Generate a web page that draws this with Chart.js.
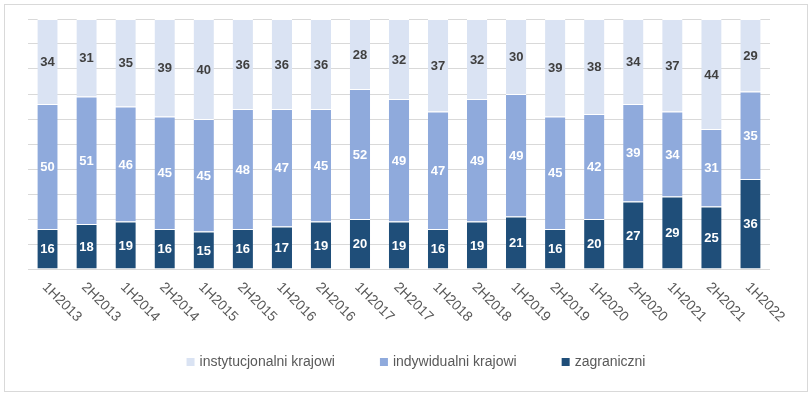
<!DOCTYPE html>
<html>
<head>
<meta charset="utf-8">
<script src="https://cdn.jsdelivr.net/npm/chart.js@4"></script>
<style>
  body { margin: 0; background: #fff; }
  #ramka { position: absolute; left: 4px; top: 4px; width: 802px; height: 386px; border: 1px solid #d9d9d9; }
  canvas { display: block; }
</style>
</head>
<body>
<div id="ramka"><canvas id="wykres" width="802" height="386"></canvas></div>
<script>
const okresy = ['1H2013', '2H2013', '1H2014', '2H2014', '1H2015', '2H2015', '1H2016', '2H2016', '1H2017', '2H2017',
  '1H2018', '2H2018', '1H2019', '2H2019', '1H2020', '2H2020', '1H2021', '2H2021', '1H2022'];
const zagraniczni = [16, 18, 19, 16, 15, 16, 17, 19, 20, 19, 16, 19, 21, 16, 20, 27, 29, 25, 36];
const indywidualni = [50, 51, 46, 45, 45, 48, 47, 45, 52, 49, 47, 49, 49, 45, 42, 39, 34, 31, 35];
const instytucjonalni = [34, 31, 35, 39, 40, 36, 36, 36, 28, 32, 37, 32, 30, 39, 38, 34, 37, 44, 29];
const yTicks = [0, 10, 20, 30, 40, 50, 60, 70, 80, 90, 100];

const kolorTekstu = '#595959';

// etykiety wartości na słupkach
const etykietyWartosci = {
  id: 'etykietyWartosci',
  afterDatasetsDraw(chart) {
    const ctx = chart.ctx;
    ctx.save();
    ctx.font = 'bold 13px "Liberation Sans", Arial, sans-serif';
    ctx.textAlign = 'center';
    ctx.textBaseline = 'middle';
    chart.data.datasets.forEach((ds, i) => {
      chart.getDatasetMeta(i).data.forEach((el, j) => {
        ctx.fillStyle = ds.kolorEtykiety;
        ctx.fillText(ds.data[j], el.x, (el.y + el.base) / 2 + 1);
      });
    });
    ctx.restore();
  }
};

// etykiety osi X obrócone w dół
const etykietyOsi = {
  id: 'etykietyOsi',
  afterDraw(chart) {
    const ctx = chart.ctx;
    const skala = chart.scales.x;
    ctx.save();
    ctx.font = '14px "Liberation Sans", Arial, sans-serif';
    ctx.fillStyle = kolorTekstu;
    ctx.textAlign = 'left';
    ctx.textBaseline = 'top';
    okresy.forEach((t, i) => {
      const x = skala.getPixelForTick(i);
      ctx.save();
      ctx.translate(x + 2, chart.chartArea.bottom + 11);
      ctx.rotate(Math.PI / 4);
      ctx.fillText(t, 0, 0);
      ctx.restore();
    });
    ctx.restore();
  }
};

// legenda
const legenda = {
  id: 'legenda',
  afterDraw(chart) {
    const ctx = chart.ctx;
    ctx.save();
    ctx.font = '14px "Liberation Sans", Arial, sans-serif';
    ctx.textBaseline = 'middle';
    const pozycje = chart.data.datasets.slice().reverse();
    const szer = pozycje.map(ds => 8 + 5 + ctx.measureText(ds.label).width);
    const odstep = 45;
    const razem = szer.reduce((a, b) => a + b, 0) + odstep * (pozycje.length - 1);
    let x = 411 - razem / 2;
    const y = 357;
    pozycje.forEach((ds, i) => {
      ctx.fillStyle = ds.backgroundColor;
      ctx.fillRect(x, y - 4, 8, 8);
      ctx.fillStyle = kolorTekstu;
      ctx.fillText(ds.label, x + 13, y);
      x += szer[i] + odstep;
    });
    ctx.restore();
  }
};

const wykres = new Chart(document.getElementById('wykres'), {
  type: 'bar',
  data: {
    labels: okresy,
    datasets: [
      { label: 'zagraniczni', data: zagraniczni, backgroundColor: '#1f4e79', kolorEtykiety: '#ffffff' },
      { label: 'indywidualni krajowi', data: indywidualni, backgroundColor: '#8faadc', kolorEtykiety: '#ffffff' },
      { label: 'instytucjonalni krajowi', data: instytucjonalni, backgroundColor: '#dae3f3', kolorEtykiety: '#404040' }
    ].map(ds => Object.assign(ds, {
      borderColor: '#ffffff',
      borderWidth: { top: 1, left: 0, right: 0, bottom: 0 },
      borderSkipped: false,
      categoryPercentage: 1,
      barPercentage: 0.52
    }))
  },
  options: {
    responsive: false,
    animation: false,
    layout: { padding: { left: 23, top: 14, right: 37, bottom: 122 } },
    plugins: { legend: { display: false }, tooltip: { enabled: false } },
    scales: {
      x: {
        stacked: true,
        ticks: { display: false },
        grid: { display: false, drawTicks: false },
        border: { display: false }
      },
      y: {
        stacked: true,
        min: 0,
        max: 100,
        afterBuildTicks: axis => { axis.ticks = yTicks.map(v => ({ value: v })); },
        ticks: { display: false },
        grid: { color: '#d9d9d9', lineWidth: 1, drawTicks: false },
        border: { display: false }
      }
    }
  },
  plugins: [etykietyWartosci, etykietyOsi, legenda]
});
</script>
</body>
</html>
